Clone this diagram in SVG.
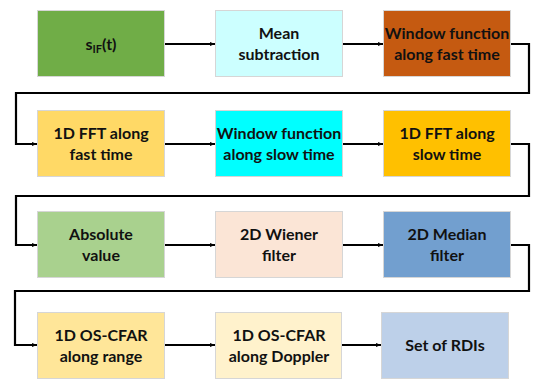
<svg xmlns="http://www.w3.org/2000/svg" width="533" height="379" viewBox="0 0 533 379">
<defs>
<marker id="ah" viewBox="0 0 10 10" refX="10" refY="5" markerWidth="5" markerHeight="5" orient="auto" markerUnits="userSpaceOnUse">
<path d="M0,1 L10,5 L0,9 Z" fill="#000"/>
</marker>
<style>
.b{stroke:#D6D6D6;stroke-width:1}
.t{font-family:Lato,"Open Sans","Liberation Sans",sans-serif;font-weight:bold;font-size:16px;fill:#111;text-anchor:middle}
.c{fill:none;stroke:#000;stroke-width:2.2;marker-end:url(#ah)}
</style>
</defs>
<rect width="533" height="379" fill="#fff"/>
<g id="n1"><rect class="b" x="37.5" y="10.5" width="127" height="66" fill="#70AD47"/><text class="t" x="101" y="50" font-size="17">s<tspan font-size="11" dy="3">IF</tspan><tspan dy="-3">(t)</tspan></text></g>
<g id="n2"><rect class="b" x="215.5" y="10.5" width="127" height="66" fill="#CCFFFF"/><text class="t" x="279" y="39">Mean</text><text class="t" x="279" y="60">subtraction</text></g>
<g id="n3"><rect class="b" x="383.5" y="10.5" width="127" height="66" fill="#C55A11"/><text class="t" x="447" y="39">Window function</text><text class="t" x="447" y="60">along fast time</text></g>
<g id="n4"><rect class="b" x="37.5" y="110.5" width="127" height="66" fill="#FFD966"/><text class="t" x="101" y="139">1D FFT along</text><text class="t" x="101" y="160">fast time</text></g>
<g id="n5"><rect class="b" x="215.5" y="110.5" width="127" height="66" fill="#00FFFF"/><text class="t" x="279" y="139">Window function</text><text class="t" x="279" y="160">along slow time</text></g>
<g id="n6"><rect class="b" x="383.5" y="110.5" width="127" height="66" fill="#FFC000"/><text class="t" x="447" y="139">1D FFT along</text><text class="t" x="447" y="160">slow time</text></g>
<g id="n7"><rect class="b" x="37.5" y="211.5" width="127" height="66" fill="#A9D18E"/><text class="t" x="101" y="240">Absolute</text><text class="t" x="101" y="261">value</text></g>
<g id="n8"><rect class="b" x="215.5" y="211.5" width="127" height="66" fill="#FBE5D6"/><text class="t" x="279" y="240">2D Wiener</text><text class="t" x="279" y="261">filter</text></g>
<g id="n9"><rect class="b" x="383.5" y="211.5" width="127" height="66" fill="#729FCF"/><text class="t" x="447" y="240">2D Median</text><text class="t" x="447" y="261">filter</text></g>
<g id="n10"><rect class="b" x="37.5" y="312.5" width="127" height="66" fill="#FFE699"/><text class="t" x="101" y="341">1D OS-CFAR</text><text class="t" x="101" y="362">along range</text></g>
<g id="n11"><rect class="b" x="215.5" y="312.5" width="126" height="66" fill="#FFF2CC"/><text class="t" x="279" y="341">1D OS-CFAR</text><text class="t" x="279" y="362">along Doppler</text></g>
<g id="n12"><rect class="b" x="381.5" y="312.5" width="127" height="66" fill="#BDD0E9"/><text class="t" x="445" y="351">Set of RDIs</text></g>
<g id="connectors">
<path class="c" d="M165,44 H215"/>
<path class="c" d="M343,44 H383"/>
<path class="c" d="M511,44 H529 V93 H16 V144 H37"/>
<path class="c" d="M165,144 H215"/>
<path class="c" d="M343,144 H383"/>
<path class="c" d="M511,144 H529 V196 H16 V245 H37"/>
<path class="c" d="M165,245 H215"/>
<path class="c" d="M343,245 H383"/>
<path class="c" d="M511,245 H529 V291 H15 V345 H37"/>
<path class="c" d="M165,345 H215"/>
<path class="c" d="M342,345 H381"/>
</g>
</svg>
